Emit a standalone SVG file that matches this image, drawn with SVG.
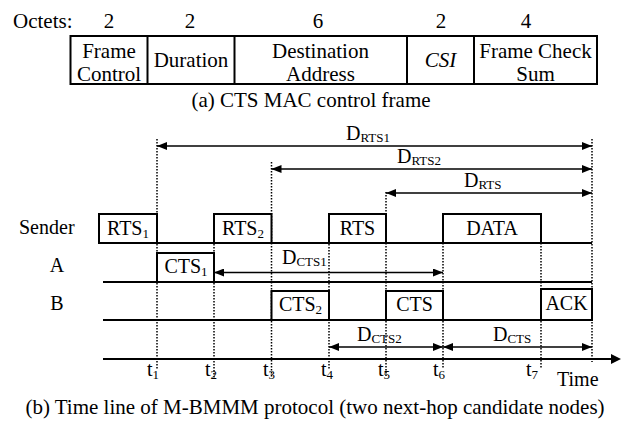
<svg xmlns="http://www.w3.org/2000/svg" width="626" height="422" viewBox="0 0 626 422">
<style>
text{font-family:"Liberation Serif","Times New Roman",serif;font-size:20px;fill:#000}
.big{font-size:21px}
.mid{text-anchor:middle}
.sub{font-size:13px}
.box{fill:#fff;stroke:#000;stroke-width:2}
.lane{stroke:#000;stroke-width:2;fill:none}
.dot{stroke:#000;stroke-width:1.5;stroke-dasharray:1.5 1.5;fill:none}
.darr{stroke:#000;stroke-width:1.5;fill:none;marker-start:url(#ah);marker-end:url(#ah)}
</style>
<defs>
<marker id="ah" viewBox="0 0 10 8" refX="10" refY="4" markerWidth="10" markerHeight="8" markerUnits="userSpaceOnUse" orient="auto-start-reverse">
<path d="M0,0 L10,4 L0,8 Z" fill="#000"/>
</marker>
</defs>

<g id="frame">
<text class="big" x="13" y="27.5">Octets:</text>
<text class="big mid" x="109" y="27.5">2</text>
<text class="big mid" x="190" y="27.5">2</text>
<text class="big mid" x="318" y="27.5">6</text>
<text class="big mid" x="441" y="27.5">2</text>
<text class="big mid" x="526" y="27.5">4</text>
<rect class="box" x="70.5" y="36" width="526.5" height="48"/>
<line class="lane" x1="147.5" y1="36" x2="147.5" y2="84"/>
<line class="lane" x1="234.5" y1="36" x2="234.5" y2="84"/>
<line class="lane" x1="407" y1="36" x2="407" y2="84"/>
<line class="lane" x1="474" y1="36" x2="474" y2="84"/>
</g>
<g id="f-fc"><text class="big mid" x="109" y="58">Frame</text><text class="big mid" x="109" y="81">Control</text></g>
<g id="f-dur"><text class="big mid" x="191" y="67">Duration</text></g>
<g id="f-da"><text class="big mid" x="320.5" y="58">Destination</text><text class="big mid" x="320.5" y="81">Address</text></g>
<g id="f-csi"><text class="big mid" x="440.5" y="67" font-style="italic">CSI</text></g>
<g id="f-fcs"><text class="big mid" x="535.5" y="58">Frame Check</text><text class="big mid" x="535.5" y="81">Sum</text></g>
<text class="big mid" x="311" y="107">(a) CTS MAC control frame</text>

<g id="guides">
<line class="dot" x1="157" y1="139" x2="157" y2="370"/>
<line class="dot" x1="214" y1="214" x2="214" y2="378"/>
<line class="dot" x1="271.5" y1="162" x2="271.5" y2="378"/>
<line class="dot" x1="329" y1="214" x2="329" y2="370"/>
<line class="dot" x1="386" y1="192" x2="386" y2="376"/>
<line class="dot" x1="443" y1="243" x2="443" y2="368"/>
<line class="dot" x1="541" y1="243" x2="541" y2="368"/>
<line class="dot" x1="592" y1="139" x2="592" y2="362"/>
</g>

<g id="lanes">
<line class="lane" x1="99" y1="243" x2="592" y2="243"/>
<line class="lane" x1="103" y1="282" x2="592" y2="282"/>
<line class="lane" x1="103" y1="320" x2="592" y2="320"/>
<line class="lane" x1="103" y1="359" x2="612" y2="359"/>
<path d="M611,354 L621,359 L611,364 Z" fill="#000"/>
</g>

<g id="lane-labels">
<text x="19" y="234">Sender</text>
<text class="mid" x="57" y="272">A</text>
<text class="mid" x="57" y="310">B</text>
<text x="557" y="386">Time</text>
</g>

<g id="tlabels">
<text x="147" y="376">t<tspan class="sub" dy="3">1</tspan></text>
<text x="205" y="376">t<tspan class="sub" dy="3">2</tspan></text>
<text x="263" y="376">t<tspan class="sub" dy="3">3</tspan></text>
<text x="321" y="376">t<tspan class="sub" dy="3">4</tspan></text>
<text x="378" y="376">t<tspan class="sub" dy="3">5</tspan></text>
<text x="433" y="376">t<tspan class="sub" dy="3">6</tspan></text>
<text x="526" y="376">t<tspan class="sub" dy="3">7</tspan></text>
</g>

<g id="rts1"><rect class="box" x="99" y="214" width="58" height="29"/><text class="mid" x="128" y="235">RTS<tspan class="sub" dy="3">1</tspan></text></g>
<g id="rts2"><rect class="box" x="214" y="214" width="57.5" height="29"/><text class="mid" x="243" y="235">RTS<tspan class="sub" dy="3">2</tspan></text></g>
<g id="rts"><rect class="box" x="329" y="214" width="57" height="29"/><text class="mid" x="357.5" y="235">RTS</text></g>
<g id="data"><rect class="box" x="443" y="214" width="98" height="29"/><text class="mid" x="492" y="235">DATA</text></g>
<g id="cts1"><rect class="box" x="157" y="253" width="57" height="29"/><text class="mid" x="186" y="273">CTS<tspan class="sub" dy="3">1</tspan></text></g>
<g id="cts2"><rect class="box" x="271.5" y="291" width="57.5" height="29"/><text class="mid" x="300.5" y="311">CTS<tspan class="sub" dy="3">2</tspan></text></g>
<g id="cts"><rect class="box" x="386" y="291" width="57" height="29"/><text class="mid" x="414.5" y="311">CTS</text></g>
<g id="ack"><rect class="box" x="541" y="289" width="51" height="31"/><text class="mid" x="566.5" y="310">ACK</text></g>

<g id="connectors">
<line class="darr" x1="157" y1="146" x2="592" y2="146"/>
<line class="darr" x1="271.5" y1="169" x2="592" y2="169"/>
<line class="darr" x1="386" y1="193" x2="592" y2="193"/>
<line class="darr" x1="214" y1="272.5" x2="443" y2="272.5"/>
<line class="darr" x1="329" y1="347" x2="443" y2="347"/>
<line class="darr" x1="443" y1="347" x2="592" y2="347"/>
</g>

<g id="dlabels">
<text x="346" y="140">D<tspan class="sub" dy="2">RTS1</tspan></text>
<text x="397" y="163">D<tspan class="sub" dy="2">RTS2</tspan></text>
<text x="464" y="187">D<tspan class="sub" dy="2">RTS</tspan></text>
<text x="282" y="264">D<tspan class="sub" dy="2">CTS1</tspan></text>
<text x="357" y="341">D<tspan class="sub" dy="2">CTS2</tspan></text>
<text x="493" y="341">D<tspan class="sub" dy="2">CTS</tspan></text>
</g>

<text class="big mid" x="315" y="414">(b) Time line of M-BMMM protocol (two next-hop candidate nodes)</text>
</svg>
